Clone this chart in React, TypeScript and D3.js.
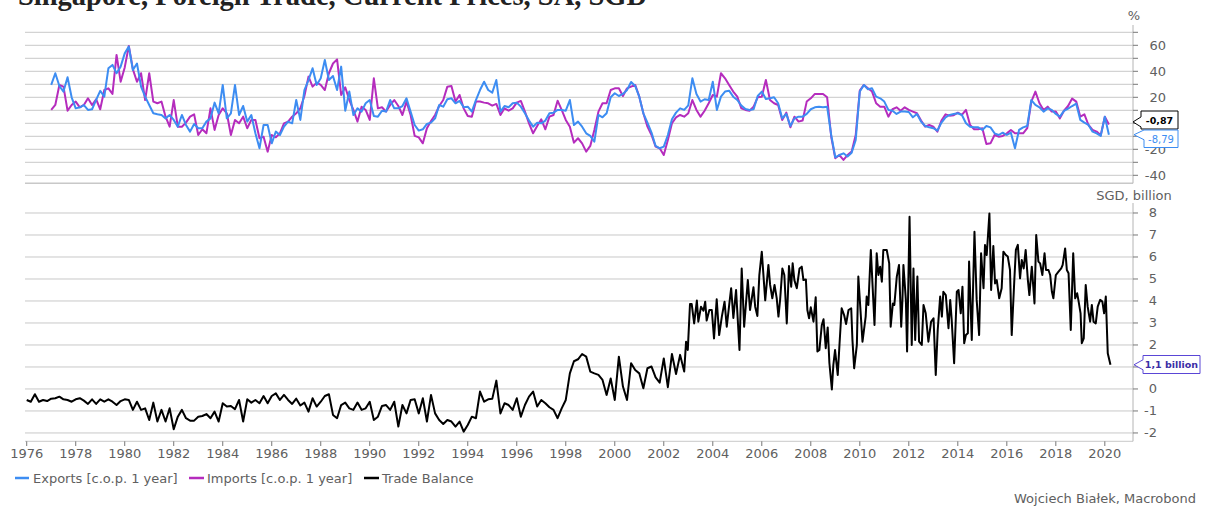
import React from "react";
import * as d3 from "d3";

const TITLE = "Singapore, Foreign Trade, Current Prices, SA, SGD";
const CREDIT = "Wojciech Białek, Macrobond";
const LEGEND = ["Exports [c.o.p. 1 year]", "Imports [c.o.p. 1 year]", "Trade Balance"];
const X_TICKS = [1976, 1978, 1980, 1982, 1984, 1986, 1988, 1990, 1992, 1994, 1996, 1998, 2000, 2002, 2004, 2006, 2008, 2010, 2012, 2014, 2016, 2018, 2020];
const TOP_TICKS = [-40, -30, -20, -10, 0, 10, 20, 30, 40, 50, 60, 70];
const TOP_LABELS = [-40, -20, 20, 40, 60];
const BOT_TICKS = [-2, -1, 0, 1, 2, 3, 4, 5, 6, 7, 8];
const BOT_LABELS = [-2, -1, 0, 2, 3, 4, 5, 6, 7, 8];

// Growth series: every 2 months starting Jan 1977 (% y/y)
const GROWTH_START = 1977;
const exportsYoY = [
  29.5, 38.5, 28.7, 24.4, 35.4, 20, 11.5, 12.3, 14, 10.3,
  10.8, 18, 25, 20.5, 42.3, 44.9, 38.5, 43.6, 53.8, 59,
  41, 46, 28.2, 20.5, 14.1, 7.7, 6.9, 6.4, 3.8, 6.4,
  2.6, -2.6, 6.4, -1.3, -6.4, -0.5, -3.8, -3.8, 1.3, 3.8,
  15.9, 7.7, 29.5, 3.8, 7.7, 29.5, 6.4, 13.3, 1.3, 6.4,
  -7.7, -19.2, -1.3, -1.3, -15.4, -6.4, -9, -2.6, 1.3, 0,
  17.9, 2.6, 25.6, 33.3, 42.3, 29.5, 34.6, 48.7, 33.3, 36.4,
  25.6, 43.6, 9.7, 24.4, 6.4, 11.5, 9, 15.4, 17.9, 5.6,
  5.1, 9.7, 9, 17.9, 11.5, 11.5,
  13.3, 19.2, 9, -1.3, -5.6, -4.6, -0.5, 0.5, 3.8, 14.1,
  12.8, 18.5, 19.2, 15.4, 17.2, 12.3, 12.8, 9, 17.9, 25.6,
  32, 25.6, 23.6, 33.3, 9, 13.3, 12.3, 15.4, 15.9, 12.8,
  7.7, 2.1, -2.6, 0.5, 0, 2.1, 7.7, 8.2, 10.3, 10.3,
  9.7, 17.9, -1.3, 1.3, -2.6, -7.7, -9.7, -14.1, 6.4, 4.6,
  7.7, 20, 23.1, 21, 22.6, 25.6, 31.8, 28.7, 20.5, 7.7,
  0.5, -7.2, -17.4, -19.2, -17.9, -9, 3.1, 8.2, 11.5, 10.3,
  13.8, 34.6, 22.6, 16.7, 18.5, 17.9, 32, 10.3, 20.5, 24.4,
  25.1, 20.5, 17.9, 13.6, 11, 10.3, 10.8, 21, 24.4, 18.7,
  19.2, 20, 15.4,
  3.8, 7.2, -2.1, 3.8, 5.1, 5.1, 7.2, 10.8, 12.3, 12.8,
  12.3, 12.8, -9, -26.2, -24.4, -23.1, -25.6, -22.6, -12.8, 24.4,
  29.5, 26.2, 26.9, 20.5, 19.2, 16.7, 10.3, 9.7, 7.2, 9,
  9, 8.7, 4.6, 7.2, 1.3, -2.1, -3.1, -3.8, -5.6, 0.5,
  4.6, 6.4, 7.2, 7.7, 6.4, 0, -2.6, -3.1, -3.1, -5.1,
  -2.1, -3.1, -7.7, -9, -7.2, -9, -7.2, -19.2, -5.1, -3.1,
  -2.1, 17.9, 14.1, 12.3, 9, 11.5, 10.3, 7.2, 5.1, 9.5,
  11.3, 13.3, 15.1, 2.6, 0.5, -1.3, -6.4, -7.7, -9.7, 5.1,
  -8.79,
];
const importsYoY = [
  10.3, 14.1, 29.5, 28.2, 9.7, 14.1, 16.7, 12.3, 14.1, 19.2,
  14.1, 18.5, 10.8, 25.6, 26.9, 22.6, 52.6, 32, 43, 59.5,
  41.5, 32, 38.5, 17.9, 38.5, 16.7, 15.4, 16.7, 5.1, -2.6,
  17.9, -2.6, -2.6, 0.5, 5.1, 6.9, -9, -4.6, -7.7, 11.5,
  -5.1, 6.4, 11.5, 7.7, -9, 2.6, 0, 5.1, -3.8, 2.6,
  2.6, -11.5, -10.3, -21.8, -9, -10.8, -7.7, 0, 1.3, 5.1,
  7.7, 11.5, 21, 35.9, 28.2, 31.3, 29.5, 25.6, 38.5, 46,
  49.2, 21.8, 27.7, 17.9, 10.3, 1.3, 12.8, 10.3, 2.6, 34.6,
  11.5, 12.3, 9, 14.1, 17.9, 13.3,
  6.4, 16.7, 6.4, -9.7, -10.8, -15.4, -3.8, 1.8, 6.4, 13.3,
  17.9, 28.2, 28.7, 16.7, 21.8, 11.5, 5.6, 5.1, 16.7, 16.7,
  15.9, 15.4, 13.6, 14.9, 6.4, 11.5, 9.7, 11.5, 15.9, 17.2,
  9, 0, -7.7, -2.1, 3.1, -4.6, 5.1, 6.4, 17.4, 10.3,
  2.6, -2.6, -14.9, -11.5, -15.4, -21.8, -17.4, -5.1, 9, 15.4,
  15.4, 25.6, 26.9, 26.9, 21, 26.9, 28.2, 29.5, 20.5, 7.7,
  -2.6, -9, -17.9, -19.2, -24.4, -12.8, 0, 4.6, 6.4, 5.1,
  7.7, 17.9, 10.3, 5.1, 9.7, 15.4, 21.8, 20.5, 38.5, 34.6,
  29.5, 24.4, 20.5, 11.5, 10.3, 9.7, 12.8, 20, 20.5, 33.3,
  17.9, 15.4, 14.1,
  2.6, 8.2, -3.1, 5.1, 1.3, 2.1, 16.7, 19.2, 22.6, 22.6,
  22.6, 20, -10.3, -26.9, -24.4, -28.2, -24.4, -21.8, -9, 25.1,
  29.5, 26.9, 24.4, 15.4, 12.8, 12.8, 5.1, 10.8, 12.3, 9.7,
  12.3, 10.3, 9, 7.7, 2.1, -2.6, -1.3, -2.6, -6.4, 2.1,
  6.9, 5.9, 6.2, 8.2, 6.4, 10.3, -1.3, -4.6, -4.6, -3.8,
  -15.9, -15.4, -9, -10.3, -9.7, -7.7, -5.1, -7.7, -7.7, -7.7,
  -3.8, 16.7, 24.4, 15.4, 10.3, 12.8, 9, 9, 3.8, 9.7,
  13.3, 19, 16.7, 5.1, 6.9, -1.3, -5.1, -6.4, -9.2, 5.1,
  -0.87,
];

// Trade balance (SGD bn): every 2 months from Jan 1976 to Nov 2002
const BALANCE_START = 1976;
const balanceEarly = [
  -0.50, -0.58, -0.24, -0.58, -0.50, -0.55, -0.44, -0.42, -0.35, -0.47,
  -0.50, -0.58, -0.47, -0.42, -0.53, -0.68, -0.47, -0.68, -0.47, -0.58,
  -0.47, -0.58, -0.73, -0.55, -0.47, -0.50, -0.95, -0.58, -0.95, -0.88,
  -1.41, -0.62, -1.48, -0.95, -1.48, -0.88, -1.83, -1.26, -0.95, -1.33,
  -1.44, -1.44, -1.26, -1.23, -1.14, -1.33, -1.03, -1.48, -0.65, -0.80,
  -0.77, -0.92, -0.50, -1.48, -0.47, -0.62, -0.50, -0.65, -0.32, -0.65,
  -0.32, -0.20, -0.50, -0.27, -0.50, -0.68, -0.44, -0.75, -0.62, -1.03,
  -0.42, -0.80, -0.58, -0.32, -0.24, -1.18, -1.33, -0.73, -0.62, -0.88,
  -0.95, -0.62, -0.95, -0.88, -0.58, -1.41, -1.26, -0.77, -0.73, -0.95,
  -0.58, -1.71, -0.73, -1.11, -0.50, -0.47, -1.11, -0.42, -1.48, -0.27,
  -1.11, -1.41, -1.59, -1.41, -1.48, -1.71, -1.48, -1.94, -1.64, -1.26,
  -1.33, -0.12, -0.58, -0.47, -0.45, 0.38, -1.11, -0.65, -0.73, -0.95,
  -0.42, -1.26, -0.73, -0.35, -0.12, -0.80, -0.50, -0.65, -0.83, -0.95,
  -1.33, -0.88, -0.50, 0.71, 1.26, 1.35, 1.59, 1.47, 0.79, 0.71,
  0.64, 0.41, -0.27, 0.48, -0.50, 1.47, 0.11, -0.50, 1.17, 0.86,
  0.71, 0.03, 0.94, 1.02, 0.53, 0.29, 1.39, 0.08, 1.59, 0.68,
  1.55, 0.79,
];
// Trade balance from late 2002, read at its visible turning points
const balanceLateYears = [
  2002.91, 2002.98, 2003.07, 2003.14, 2003.24, 2003.35, 2003.41, 2003.52, 2003.62, 2003.69,
  2003.75, 2003.86, 2003.96, 2004.05, 2004.16, 2004.26, 2004.37, 2004.48, 2004.57, 2004.67,
  2004.75, 2004.84, 2004.95, 2005.09, 2005.18, 2005.28, 2005.43, 2005.52, 2005.66, 2005.73,
  2005.82, 2005.90, 2006.00, 2006.14, 2006.27, 2006.34, 2006.43, 2006.52, 2006.61, 2006.68,
  2006.75, 2006.84, 2006.92, 2007.02, 2007.11, 2007.20, 2007.26, 2007.33, 2007.43, 2007.54,
  2007.63, 2007.70, 2007.80, 2007.86, 2007.93, 2008.00, 2008.11, 2008.20, 2008.27, 2008.35,
  2008.45, 2008.52, 2008.61, 2008.69, 2008.76, 2008.86, 2008.92, 2008.99, 2009.10, 2009.17,
  2009.26, 2009.36, 2009.44,
  2009.54, 2009.65, 2009.70, 2009.77, 2009.88, 2009.94, 2010.11, 2010.24, 2010.28, 2010.35,
  2010.45, 2010.60, 2010.69, 2010.76, 2010.83, 2010.90, 2010.96, 2011.10, 2011.20, 2011.26,
  2011.35, 2011.41, 2011.51, 2011.60, 2011.69, 2011.74, 2011.78, 2011.88, 2011.93, 2012.03,
  2012.12, 2012.19, 2012.26, 2012.35, 2012.42, 2012.53, 2012.60, 2012.69, 2012.80, 2012.91,
  2013.01, 2013.10, 2013.18, 2013.28, 2013.35, 2013.41, 2013.51, 2013.62, 2013.69, 2013.75,
  2013.85, 2013.96, 2014.03, 2014.12, 2014.19, 2014.26, 2014.33, 2014.41, 2014.46, 2014.57,
  2014.68, 2014.77, 2014.87, 2014.95, 2015.05, 2015.11, 2015.18, 2015.29, 2015.36, 2015.45,
  2015.52, 2015.59, 2015.69, 2015.79, 2015.86, 2015.96, 2016.04, 2016.13, 2016.20, 2016.31,
  2016.37, 2016.45, 2016.54, 2016.61, 2016.69, 2016.77, 2016.86, 2016.92, 2017.02, 2017.13,
  2017.20, 2017.29, 2017.36, 2017.45, 2017.54, 2017.60, 2017.70, 2017.77, 2017.84, 2017.90,
  2018.00, 2018.11, 2018.22, 2018.28, 2018.38, 2018.45, 2018.52, 2018.61, 2018.71, 2018.79,
  2018.87, 2018.92, 2019.01, 2019.06, 2019.14, 2019.22, 2019.30, 2019.40, 2019.47, 2019.54,
  2019.63, 2019.71, 2019.81, 2019.90, 2019.97, 2020.04, 2020.12, 2020.23,
];
const balanceLateValues = [
  2.15, 1.77, 3.86, 3.86, 2.98, 4.02, 3.06, 3.74, 3.56, 3.97,
  3.11, 3.59, 3.59, 2.30, 4.08, 2.45, 3.29, 3.97, 2.83, 3.82,
  4.58, 3.23, 4.50, 1.77, 5.48, 2.83, 4.95, 3.59, 4.62, 3.74,
  3.32, 5.18, 6.24, 4.03, 5.64, 4.73, 4.12, 4.73, 4.12, 3.29,
  4.08, 5.48, 5.18, 2.98, 5.59, 4.65, 5.71, 4.95, 4.58, 5.48,
  5.56, 4.95, 4.98, 3.59, 3.21, 3.71, 3.06, 4.17, 1.70, 1.77,
  2.91, 3.17, 1.85, 2.80, 1.17, -0.02, 1.09, 1.77, 0.64, 2.00,
  3.67, 3.36, 2.95,
  3.59, 3.67, 2.23, 0.94, 2.00, 5.11, 2.15, 3.29, 4.20, 3.82,
  6.32, 2.91, 6.17, 5.18, 5.56, 4.88, 6.32, 6.32, 5.71, 2.83,
  3.89, 3.82, 5.11, 5.64, 2.83, 4.05, 5.64, 4.05, 1.70, 7.83,
  2.00, 5.48, 2.23, 5.11, 2.15, 2.00, 3.82, 3.44, 2.15, 3.06,
  3.21, 0.64, 2.68, 4.20, 3.29, 4.42, 4.27, 2.76, 4.05, 3.14,
  1.17, 4.42, 4.50, 3.44, 4.65, 2.08, 2.45, 2.53, 5.79, 2.23,
  7.15, 4.05, 2.45, 6.17, 4.58, 6.55, 6.09, 7.98, 4.50, 6.50,
  4.80, 4.95, 4.12, 4.58, 6.24, 6.09, 6.02, 5.41, 2.45, 5.03,
  6.32, 6.55, 5.03, 5.86, 5.48, 6.32, 4.95, 4.27, 5.56, 3.89,
  7.00, 5.79, 5.71, 5.18, 6.17, 5.41, 5.41, 5.18, 4.42, 4.12,
  5.18, 5.33, 5.48, 5.64, 6.39, 5.41, 5.26, 2.68, 6.17, 4.12,
  4.35, 4.05, 3.44, 2.08, 2.30, 4.73, 3.74, 3.06, 3.82, 3.06,
  2.98, 3.74, 4.05, 3.97, 3.44, 4.20, 1.62, 1.10,
];

const COLORS = { exports: "#3d8df2", imports: "#b52cbd", balance: "#000000", grid: "#c8c8c8", text: "#606060", axis: "#b4b4b4" };
const FONT = "'DejaVu Sans', Verdana, sans-serif";

type Pt = [number, number];

function calloutPath(tipX: number, tipY: number, left: number, top: number, w: number, h: number) {
  const a1 = Math.max(top, tipY - 5);
  const a2 = Math.min(top + h, tipY + 5);
  return `M${tipX},${tipY} L${left},${a1} L${left},${top} L${left + w},${top} L${left + w},${top + h} L${left},${top + h} L${left},${a2} Z`;
}

const fmt = (v: number, d: number) => v.toFixed(d).replace(".", ",");

export default function App() {
  const W = 1205, H = 507;
  const x = d3.scaleLinear().domain([1975.93, 2021.15]).range([25, 1133]);
  const yTop = d3.scaleLinear().domain([-46, 75]).range([183.1, 25.8]);
  const yBot = d3.scaleLinear().domain([-2.37, 8.5]).range([441.1, 202]);

  const expPts: Pt[] = exportsYoY.map((v, i) => [GROWTH_START + i / 6, v]);
  const impPts: Pt[] = importsYoY.map((v, i) => [GROWTH_START + i / 6, v]);
  const balPts: Pt[] = [
    ...balanceEarly.map((v, i) => [BALANCE_START + i / 6, v] as Pt),
    ...balanceLateValues.map((v, i) => [balanceLateYears[i], v] as Pt),
  ];

  const lineTop = d3.line<Pt>().x((d) => x(d[0])).y((d) => yTop(d[1]));
  const lineBot = d3.line<Pt>().x((d) => x(d[0])).y((d) => yBot(d[1]));

  const xl = 25, xr = 1133;
  const lastExp = exportsYoY[exportsYoY.length - 1];
  const lastImp = importsYoY[importsYoY.length - 1];
  const lastBal = balanceLateValues[balanceLateValues.length - 1];

  const impTipY = yTop(lastImp) - 2.5;
  const expTipY = yTop(lastExp);
  const balTipY = yBot(lastBal);

  return (
    <div style={{ position: "absolute", left: 0, top: 0, width: W, height: H }}>
      <svg width={W} height={H} style={{ display: "block", fontFamily: FONT }}>
        <rect x={0} y={0} width={W} height={H} fill="#fff" />
        <text x={18} y={5} fontFamily="'Liberation Serif', 'DejaVu Serif', serif" fontWeight="bold" fontSize={28.5} fill="#222">{TITLE}</text>

        {/* top panel grid */}
        {TOP_TICKS.map((t) => (
          <line key={"tg" + t} x1={xl} x2={xr} y1={yTop(t)} y2={yTop(t)} stroke={COLORS.grid} strokeWidth={1} />
        ))}
        <line x1={xl} x2={xr} y1={183.3} y2={183.3} stroke={COLORS.grid} strokeWidth={1.5} />
        <line x1={xr} x2={xr} y1={25} y2={183.3} stroke={COLORS.axis} strokeWidth={1} />
        {TOP_TICKS.map((t) => (
          <line key={"tt" + t} x1={xr} x2={xr + 5} y1={yTop(t)} y2={yTop(t)} stroke="#777" strokeWidth={1} />
        ))}
        {TOP_LABELS.map((t) => (
          <text key={"tl" + t} x={1166} y={yTop(t) + 4.5} textAnchor="end" fontSize={13} fill={COLORS.text}>{t}</text>
        ))}
        <text x={1134} y={19.5} textAnchor="middle" fontSize={13} fill={COLORS.text}>%</text>

        {/* bottom panel grid */}
        {BOT_TICKS.map((t) => (
          <line key={"bg" + t} x1={xl} x2={xr} y1={yBot(t)} y2={yBot(t)} stroke={COLORS.grid} strokeWidth={1} />
        ))}
        <line x1={xl} x2={xr} y1={441.3} y2={441.3} stroke={COLORS.grid} strokeWidth={1} />
        <line x1={xr} x2={xr} y1={203} y2={441.3} stroke={COLORS.axis} strokeWidth={1} />
        {BOT_TICKS.map((t) => (
          <line key={"bt" + t} x1={xr} x2={xr + 5} y1={yBot(t)} y2={yBot(t)} stroke="#777" strokeWidth={1} />
        ))}
        {BOT_LABELS.map((t) => (
          <text key={"bl" + t} x={1157} y={yBot(t) + 4.5} textAnchor="end" fontSize={13} fill={COLORS.text}>{t}</text>
        ))}
        <text x={1134} y={199.5} textAnchor="middle" fontSize={13} fill={COLORS.text}>SGD, billion</text>

        {/* x axis */}
        {X_TICKS.map((t) => (
          <g key={"x" + t}>
            <line x1={x(t)} x2={x(t)} y1={441.3} y2={446} stroke="#777" strokeWidth={1} />
            <text x={x(t)} y={458} textAnchor="middle" fontSize={13} fill={COLORS.text}>{t}</text>
          </g>
        ))}

        {/* series */}
        <path d={lineTop(impPts) || ""} fill="none" stroke={COLORS.imports} strokeWidth={2} strokeLinejoin="round" />
        <path d={lineTop(expPts) || ""} fill="none" stroke={COLORS.exports} strokeWidth={2} strokeLinejoin="round" />
        <path d={lineBot(balPts) || ""} fill="none" stroke={COLORS.balance} strokeWidth={2} strokeLinejoin="round" />

        {/* value labels */}
        <path d={calloutPath(1133, impTipY, 1141, 111, 37, 18)} fill="#fff" stroke="#000" strokeWidth={1} />
        <text x={1159.5} y={123.5} textAnchor="middle" fontSize={9.5} fontWeight="bold" fill="#000">{fmt(lastImp, 2)}</text>
        <path d={calloutPath(1134, expTipY, 1144, 130, 34, 17.5)} fill="#fff" stroke={COLORS.exports} strokeWidth={1} />
        <text x={1161} y={142.5} textAnchor="middle" fontSize={10} fill={COLORS.exports}>{fmt(lastExp, 2)}</text>
        <path d={calloutPath(1134, balTipY, 1143, 355.5, 57, 18)} fill="#fff" stroke="#5a46d6" strokeWidth={1} />
        <text x={1171.5} y={368} textAnchor="middle" fontSize={9.5} fontWeight="bold" fill="#3b2ea6">{fmt(lastBal, 1) + " billion"}</text>

        {/* legend */}
        <line x1={15} x2={29} y1={478} y2={478} stroke={COLORS.exports} strokeWidth={2.5} />
        <text x={33} y={482.5} fontSize={13} fill={COLORS.text}>{LEGEND[0]}</text>
        <line x1={189} x2={204} y1={478} y2={478} stroke={COLORS.imports} strokeWidth={2.5} />
        <text x={207} y={482.5} fontSize={13} fill={COLORS.text}>{LEGEND[1]}</text>
        <line x1={364} x2={379} y1={478} y2={478} stroke={COLORS.balance} strokeWidth={2.5} />
        <text x={382} y={482.5} fontSize={13} fill={COLORS.text}>{LEGEND[2]}</text>

        <text x={1196} y={503} textAnchor="end" fontSize={13} fill={COLORS.text}>{CREDIT}</text>
      </svg>
    </div>
  );
}
